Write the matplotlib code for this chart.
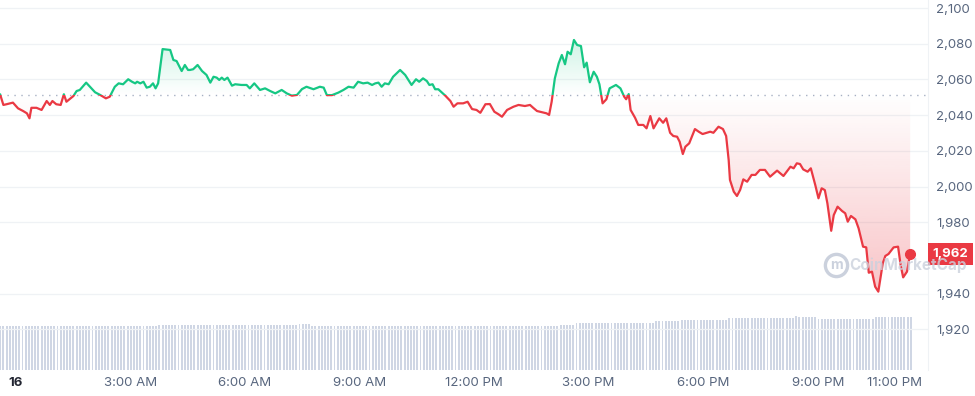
import numpy as np
import matplotlib.pyplot as plt
from matplotlib.patches import Rectangle

plt.rcParams['font.family'] = ['Inter', 'DejaVu Sans']

GREEN = '#16c784'
RED = '#ea3943'
GREY = '#58667e'

# price trace, minutes after midnight on the 16th
minutes = [-24, -19, -14, -4, 4, 12, 18, 22, 25, 33,
           41, 49, 54, 58, 64, 71, 76, 80, 91, 96,
           101, 111, 117, 125, 133, 142, 148, 156, 162, 169,
           177, 183, 188, 191, 196, 201, 206, 211, 216, 220,
           224, 231, 243, 248, 253, 261, 266, 271, 274, 279,
           286, 293, 300, 306, 311, 316, 320, 324, 328, 333,
           340, 345, 355, 363, 368, 375, 384, 392, 400, 408,
           418, 426, 434, 442, 450, 457, 468, 478, 484, 489,
           497, 507, 515, 523, 531, 538, 546, 553, 560, 565,
           570, 575, 580, 586, 593, 604, 612, 622, 629, 634,
           640, 646, 650, 655, 659, 664, 675, 683, 688, 694,
           703, 710, 717, 724, 730, 738, 745, 752, 758, 764,
           772, 782, 790, 800, 808, 813, 819, 827, 834, 838,
           842, 847, 853, 858, 863, 867, 872, 877, 882, 888,
           893, 897, 902, 908, 913, 917, 922, 928, 933, 943,
           950, 956, 959, 963, 966, 973, 978, 986, 991, 997,
           1002, 1011, 1017, 1022, 1028, 1033, 1039, 1043, 1048, 1052,
           1058, 1067, 1073, 1079, 1091, 1096, 1104, 1111, 1116, 1120,
           1122, 1128, 1133, 1138, 1143, 1149, 1156, 1162, 1169, 1177,
           1185, 1196, 1206, 1217, 1222, 1227, 1232, 1237, 1244, 1249,
           1256, 1261, 1266, 1271, 1275, 1281, 1285, 1291, 1298, 1303,
           1307, 1312, 1319, 1324, 1331, 1336, 1340, 1345, 1350, 1355,
           1362, 1366, 1371, 1379, 1386, 1390, 1394, 1400, 1405]

prices = [2051.5, 2045.7, 2046.1, 2047.0, 2043.8, 2042.3, 2041.0, 2038.2, 2044.1, 2044.1,
          2042.9, 2047.9, 2045.7, 2047.9, 2046.1, 2045.7, 2051.7, 2047.5, 2050.7, 2053.5,
          2054.1, 2058.2, 2055.9, 2052.8, 2051.3, 2049.4, 2050.3, 2055.9, 2057.8, 2057.3,
          2060.1, 2058.7, 2057.8, 2058.7, 2057.8, 2058.7, 2055.4, 2055.9, 2057.8, 2055.0,
          2057.8, 2077.0, 2076.5, 2070.9, 2070.3, 2064.7, 2068.1, 2065.3, 2065.3, 2065.7,
          2068.1, 2064.7, 2062.5, 2058.2, 2061.5, 2061.0, 2059.7, 2061.0, 2059.7, 2061.0,
          2056.5, 2057.3, 2056.9, 2056.9, 2055.0, 2057.8, 2054.1, 2055.0, 2053.5, 2052.2,
          2054.1, 2052.2, 2050.9, 2051.3, 2054.6, 2055.9, 2054.5, 2055.9, 2055.4, 2051.2,
          2051.2, 2052.6, 2054.1, 2055.9, 2055.4, 2058.7, 2057.8, 2058.2, 2056.9, 2057.8,
          2058.2, 2055.9, 2057.8, 2057.3, 2061.5, 2065.3, 2062.5, 2056.9, 2060.1, 2058.7,
          2060.6, 2059.1, 2056.9, 2057.3, 2054.5, 2054.5, 2050.9, 2047.9, 2044.7, 2046.6,
          2046.6, 2047.5, 2043.4, 2042.9, 2041.3, 2046.1, 2046.2, 2041.9, 2040.6, 2039.1,
          2042.9, 2044.7, 2045.7, 2045.1, 2045.7, 2044.1, 2042.3, 2041.6, 2041.0, 2040.1,
          2047.5, 2060.6, 2069.0, 2073.7, 2068.5, 2075.5, 2074.1, 2082.1, 2079.3, 2078.7,
          2066.8, 2069.4, 2058.4, 2064.3, 2061.5, 2057.3, 2046.6, 2048.9, 2055.0, 2056.9,
          2055.0, 2050.3, 2048.9, 2051.8, 2042.9, 2038.5, 2034.5, 2034.5, 2032.6, 2039.5,
          2032.6, 2038.2, 2035.7, 2038.2, 2030.1, 2028.3, 2027.9, 2025.1, 2018.2, 2022.3,
          2024.2, 2032.2, 2030.7, 2029.4, 2030.7, 2030.1, 2033.5, 2032.2, 2028.3, 2014.8,
          2003.7, 1997.1, 1994.7, 1998.1, 2004.0, 2002.7, 2006.5, 2006.5, 2009.3, 2009.3,
          2005.5, 2008.9, 2005.9, 2011.1, 2010.2, 2013.0, 2012.6, 2009.6, 2008.3, 2010.2,
          2000.8, 1993.4, 1999.0, 1998.0, 1990.6, 1975.2, 1984.0, 1988.7, 1986.3, 1985.0,
          1980.3, 1983.5, 1981.6, 1976.6, 1966.3, 1965.9, 1951.7, 1952.3, 1943.9, 1941.1,
          1957.0, 1961.1, 1962.2, 1965.9, 1966.3, 1956.0, 1949.1, 1952.3, 1962.2]

open_price = 2051.5

# 5-minute volume bars, read as runs of equal height (billions)
vol_levels = [8.8, 9.1, 9.0, 9.2, 8.8, 9.0, 9.34, 9.46, 9.8, 10.0,
              10.46, 10.86, 10.54, 10.2, 10.3, 10.54]
vol_counts = [50, 8, 36, 4, 78, 5, 11, 14, 8, 15, 21, 1, 6, 14, 4, 12]
vol_start = -24

tick_pos = [0, 180, 360, 540, 720, 900, 1080, 1260, 1380]
tick_labels = ['16', '3:00 AM', '6:00 AM', '9:00 AM', '12:00 PM',
               '3:00 PM', '6:00 PM', '9:00 PM', '11:00 PM']
y_ticks = [1920, 1940, 1980, 2000, 2020, 2040, 2060, 2080, 2100]

fig = plt.figure(figsize=(9.75, 3.96), dpi=100)
ax = fig.add_axes([0, 26 / 396, 928 / 975, 370 / 396])
vax = ax.twinx()
ax.set_zorder(vax.get_zorder() + 1)
ax.patch.set_visible(False)

x0, x1 = -24.3, 1433
y0, y1 = 1897.2, 2104.5

# volume
vol = np.repeat(vol_levels, vol_counts)
vol_t = vol_start + 5 * np.arange(len(vol))
vax.bar(vol_t, vol, width=3.0, color='#cfd6e4', linewidth=0)
vax.set_ylim(0, 74)
vax.set_yticks([])
for s in vax.spines.values():
    s.set_visible(False)

# gradient fills between line and opening price
poly = ax.fill_between(minutes, prices, open_price, facecolor='none', edgecolor='none')
clip = poly.get_paths()[0]

g = np.linspace(0, 1, 256).reshape(-1, 1)
up = np.zeros((256, 1, 4))
up[..., :3] = (22 / 255, 199 / 255, 132 / 255)
up[..., 3] = g * 0.2
im_up = ax.imshow(up, extent=[x0, x1, open_price, max(prices)], origin='lower',
                  aspect='auto', zorder=2, interpolation='bilinear')
im_up.set_clip_path(clip, transform=ax.transData)

dn = np.zeros((256, 1, 4))
dn[..., :3] = (234 / 255, 57 / 255, 67 / 255)
dn[..., 3] = (1 - g) * 0.3
im_dn = ax.imshow(dn, extent=[x0, x1, min(prices), open_price], origin='lower',
                  aspect='auto', zorder=2, interpolation='bilinear')
im_dn.set_clip_path(clip, transform=ax.transData)

# line, green above open and red below
ln_up, = ax.plot(minutes, prices, color=GREEN, lw=1.6, zorder=4, solid_joinstyle='round')
ln_up.set_clip_path(Rectangle((x0 - 100, open_price), 2000, 500, transform=ax.transData))
ln_dn, = ax.plot(minutes, prices, color=RED, lw=1.6, zorder=4, solid_joinstyle='round')
ln_dn.set_clip_path(Rectangle((x0 - 100, open_price - 500), 2000, 500, transform=ax.transData))

ax.axhline(open_price, color='#a6b0c3', lw=1, linestyle=(0, (1, 4)), zorder=3)
ax.plot(minutes[-1], prices[-1], 'o', color=RED, ms=7, zorder=5)

ax.set_xlim(x0, x1)
ax.set_ylim(y0, y1)

ax.set_yticks(y_ticks)
ax.set_yticklabels([f'{v:,}' for v in y_ticks])
ax.yaxis.tick_right()
ax.grid(axis='y', color='#eff2f5', lw=0.9)
ax.set_axisbelow(True)
ax.tick_params(axis='y', length=0, pad=6, labelsize=9.5, labelcolor=GREY)

ax.set_xticks(tick_pos)
ax.set_xticklabels(tick_labels)
ax.tick_params(axis='x', length=0, pad=5, labelsize=9.5, labelcolor=GREY)
first = ax.get_xticklabels()[0]
first.set_fontweight('bold')
first.set_color('#222531')

for name, s in ax.spines.items():
    s.set_visible(name == 'right')
ax.spines['right'].set_color('#eff2f5')

# current price tag
ax.annotate(f'{prices[-1]:,.0f}', xy=(1, prices[-1]),
            xycoords=('axes fraction', 'data'), xytext=(3.3, 0),
            textcoords='offset points', ha='left', va='center',
            color='white', fontsize=9.5, fontweight='bold', annotation_clip=False,
            bbox=dict(boxstyle='square,pad=0.35', fc=RED, ec='none'), zorder=6)

# watermark
ax.plot([836 / 928], [(370 - 265) / 370], 'o', ms=16, mfc='none', mec='#cbd1dd',
        mew=2.4, transform=ax.transAxes, clip_on=False, zorder=1)
ax.text(836 / 928, (370 - 265) / 370, 'm', transform=ax.transAxes, ha='center',
        va='center', color='#cbd1dd', fontsize=10, fontweight='bold', zorder=1)
fig.text(849 / 975, 1 - 265 / 396, 'CoinMarketCap', ha='left', va='center',
         color='#cbd1dd', fontsize=11, fontweight='bold', alpha=0.8, zorder=1)

fig.savefig('out.png', dpi=100)
